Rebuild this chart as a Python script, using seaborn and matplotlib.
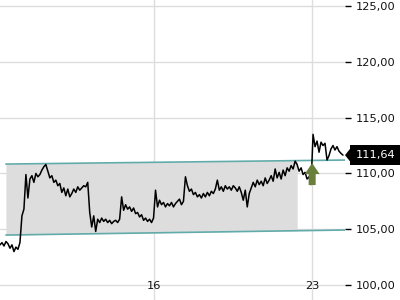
import numpy as np
import pandas as pd
import matplotlib
matplotlib.use("Agg")
import matplotlib.pyplot as plt
import matplotlib.transforms as mtransforms
from matplotlib.patches import Polygon, FancyArrow
import seaborn as sns

# ---- data ----
price = [
    103.6, 103.8, 103.5, 103.9, 103.7, 103.3, 103.6, 103.0, 103.4, 103.2, 103.8,
    106.2, 106.8, 109.9, 107.8, 109.5, 109.8, 109.2, 110.0, 109.7, 109.9, 110.3,
    110.6, 110.8, 110.2, 109.6, 109.8, 109.2, 109.4, 108.9, 109.1, 108.3, 108.7,
    108.0, 108.6, 107.9, 108.2, 108.6, 108.3, 108.8, 108.5, 108.7, 108.9, 108.8,
    109.2, 106.5, 105.2, 106.2, 104.8, 105.9, 105.6, 106.0, 105.7, 105.9, 105.6,
    105.8, 105.5, 105.7, 105.8, 105.6, 105.9, 107.9, 106.7, 107.2, 106.8, 107.0,
    106.6, 106.9, 106.4, 106.5, 106.1, 106.3, 105.8, 106.0, 105.7, 105.9, 105.6,
    106.0, 108.5, 107.0, 107.6, 107.2, 107.4, 107.0, 107.3, 107.1, 107.4, 107.0,
    107.3, 107.5, 107.7, 107.2, 107.5, 109.7, 108.9, 108.4, 108.6, 108.1, 108.3,
    107.9, 108.1, 107.8, 108.2, 107.9, 108.3, 108.0, 108.4, 108.2, 108.6, 109.4,
    108.5, 108.8, 108.4, 108.9, 108.6, 108.8, 108.5, 108.9, 108.7, 108.4, 108.8,
    108.3, 107.6, 108.5, 107.0, 108.2, 108.7, 109.2, 108.8, 109.4, 109.0, 109.3,
    108.9, 109.6, 109.1, 109.4, 109.8, 109.3, 110.4, 109.6, 110.1, 109.5, 110.3,
    109.8, 110.5, 110.2, 110.7, 110.4, 111.1, 110.8, 110.2, 110.5, 109.9, 110.1,
    109.5, 109.7, 109.0, 113.5, 112.4, 112.9, 111.9, 112.8, 112.5, 112.7, 111.2,
    111.6, 112.2, 112.5, 112.1, 112.4, 112.0, 111.8, 111.64,
]
t_start, t_end = 9.22, 24.36          # day-of-month time span of the series
last_price = 111.64

channel_x = [9.48, 24.45]
channel_top = [110.84, 111.20]
channel_bot = [104.48, 104.93]
fill_x = [9.48, 22.34]
fill_top = [110.84, 111.15]
fill_bot = [104.48, 104.87]

signal_day, signal_bottom, signal_tip = 23.0, 108.96, 110.93

x_ticks = [16, 23]
x_labels = ["16", "23"]
y_ticks = [100, 105, 110, 115, 120, 125]
y_labels = ["100,00", "105,00", "110,00", "115,00", "120,00", "125,00"]

df = pd.DataFrame({"t": np.linspace(t_start, t_end, len(price)), "price": price})

# ---- figure ----
sns.set_style("white")
plt.rcParams["font.family"] = ["DejaVu Sans"]
fig = plt.figure(figsize=(4, 3), dpi=100)
ax = fig.add_axes([0, 0, 345 / 400, 1])

ax.set_xlim(9.22, 24.45)
ax.set_ylim(98.66, 125.54)

grid_c = "#dddddd"
for v in y_ticks:
    ax.axhline(v, color=grid_c, lw=1, zorder=0)
for v in x_ticks:
    ax.axvline(v, color=grid_c, lw=1, zorder=0)

ax.fill_between(fill_x, fill_bot, fill_top, color="#dddddd", lw=0, zorder=1)
ax.plot(channel_x, channel_top, color="#62abab", lw=1.2, zorder=2)
ax.plot(channel_x, channel_bot, color="#62abab", lw=1.2, zorder=2)

sns.lineplot(data=df, x="t", y="price", color="black", lw=1.1, ax=ax, zorder=3)

arrow = FancyArrow(signal_day, signal_bottom, 0, signal_tip - signal_bottom,
                   width=0.31, head_width=0.66, head_length=0.99,
                   length_includes_head=True, color="#6b7f3c", lw=0, zorder=4)
ax.add_patch(arrow)

for s in ax.spines.values():
    s.set_visible(False)

ax.set_xlabel("")
ax.set_ylabel("")
ax.yaxis.tick_right()
ax.set_yticks(y_ticks)
ax.set_yticklabels(y_labels)
ax.set_xticks(x_ticks)
ax.set_xticklabels(x_labels)
ax.tick_params(axis="y", direction="out", length=4, width=1, color="black",
               pad=4, labelsize=8.2, labelcolor="#111111")
ax.tick_params(axis="x", direction="in", length=4, width=1, color="black",
               pad=-14, labelsize=8.2, labelcolor="#111111")

# last-price label
trans = mtransforms.blended_transform_factory(ax.transAxes, ax.transData)
ax.text(395 / 345, last_price, "111,64", transform=trans, ha="right", va="center",
        color="white", fontsize=8.2, clip_on=False, zorder=6,
        bbox=dict(boxstyle="square,pad=0.45", fc="black", ec="none"))
tri = Polygon([(345 / 345, last_price), (352 / 345, last_price + 0.78),
               (352 / 345, last_price - 0.78)], closed=True, transform=trans,
              fc="black", ec="none", clip_on=False, zorder=6)
ax.add_patch(tri)

fig.savefig("out.png", dpi=100)
